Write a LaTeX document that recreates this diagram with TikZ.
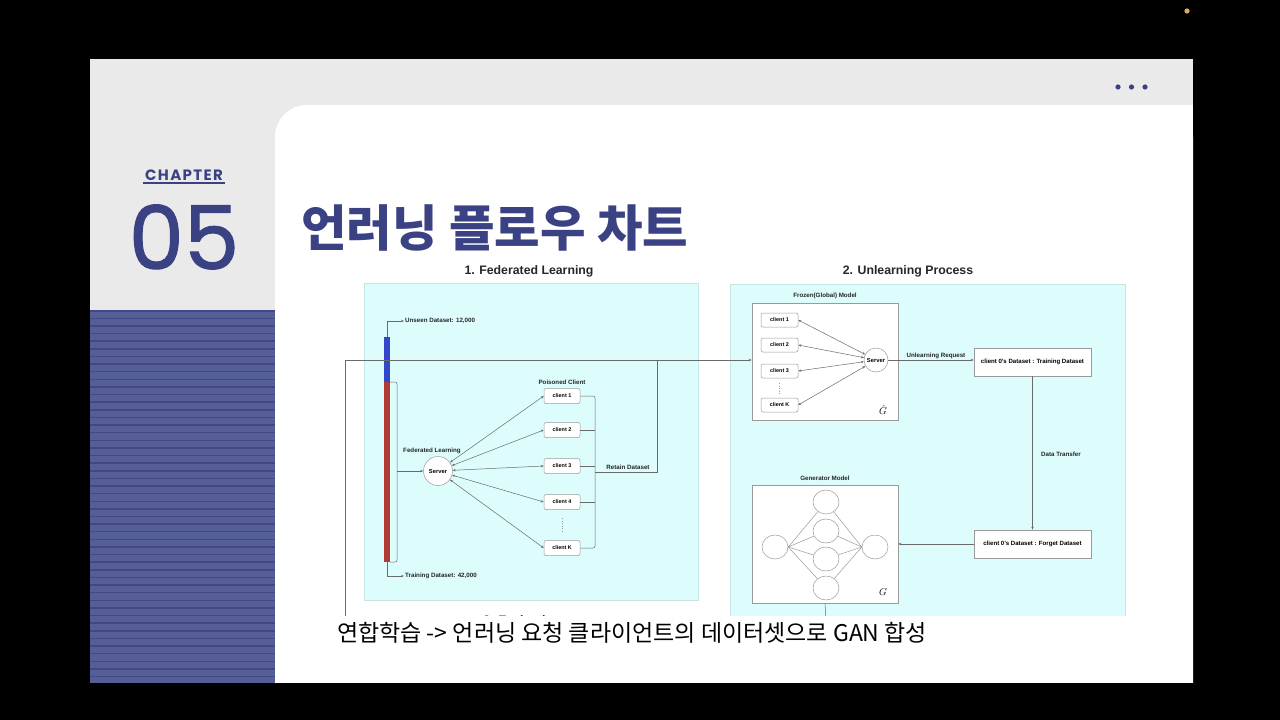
\documentclass[tikz,border=0pt]{standalone}
\usepackage{fontspec}
\setmainfont{Liberation Sans}
\newfontfamily\kr{Noto Sans CJK KR}
\newfontfamily\pop[FakeBold=1.2]{Poppins}
\newfontfamily\popls[LetterSpace=9]{Poppins}
\usetikzlibrary{arrows.meta,shapes.geometric}
\definecolor{navy}{HTML}{3B4283}
\definecolor{slidegrey}{HTML}{EAEAEA}
\definecolor{stripebase}{HTML}{555E97}
\definecolor{stripedark}{HTML}{414884}
\definecolor{panelcyan}{HTML}{DDFCFC}
\definecolor{paneledge}{HTML}{C6E6E6}
\definecolor{linegrey}{HTML}{6A6A6A}
\definecolor{boxedge}{HTML}{9A9A9A}
\definecolor{barblue}{HTML}{3248C8}
\definecolor{barred}{HTML}{B23A34}
\definecolor{dotorange}{HTML}{E0A860}
\tikzset{
  conn/.style={draw=linegrey, line width=0.5pt},
  arr/.style={conn, -{Stealth[length=3pt,width=2.4pt]}},
  biarr/.style={conn, {Stealth[length=3pt,width=2.4pt]}-{Stealth[length=3pt,width=2.4pt]}},
  lbl/.style={font=\fontsize{6.2}{7}\selectfont\bfseries, text=black!85, inner sep=1pt},
  cbox/.style={draw=boxedge, fill=white, rounded corners=2pt, line width=0.5pt,
    minimum width=36pt, minimum height=15pt, inner sep=0pt,
    font=\fontsize{5.4}{6}\selectfont\bfseries},
  srv/.style={circle, draw=boxedge, fill=white, line width=0.5pt, inner sep=0pt,
    font=\fontsize{5.8}{6}\selectfont\bfseries},
  bigbox/.style={draw=boxedge, fill=white, line width=0.6pt, inner sep=0pt},
  dsbox/.style={draw=boxedge, fill=white, line width=0.6pt, inner sep=0pt,
    minimum width=117pt, minimum height=28pt, font=\fontsize{6.1}{7}\selectfont\bfseries},
  neuron/.style={ellipse, draw=boxedge, fill=white, line width=0.5pt,
    minimum width=26pt, minimum height=24pt, inner sep=0pt},
  ptitle/.style={font=\fontsize{12.3}{14}\selectfont\bfseries, text=black!85, inner sep=0pt},
  panel/.style={fill=panelcyan, draw=paneledge, line width=0.5pt}
}
\begin{document}
\begin{tikzpicture}[x=1pt,y=-1pt]
\useasboundingbox (0,0) rectangle (1280,720);
\fill[black] (0,0) rectangle (1280,720);
\fill[dotorange] (1187,11) circle (2.6);
% slide
\fill[slidegrey] (90,59) rectangle (1193,683);
\fill[white, rounded corners=32pt] (275,105) rectangle (1193,720);
\fill[white] (1140,105) rectangle (1193,160);
\fill[white] (1140,600) rectangle (1193,683);
\fill[black] (0,683) rectangle (1280,720);
% stripes
\fill[stripebase] (90,310) rectangle (275,683);
\foreach \i in {0,...,48} {
  \fill[stripedark] (90,{310+7.62*\i}) rectangle (275,{311.5+7.62*\i});
}
% dots top right
\foreach \xx in {1118,1131.5,1145} {
  \fill[navy] (\xx,87) circle (2.6);
}
% chapter
\node[text=navy, inner sep=0pt, font=\popls\bfseries\fontsize{15}{17}\selectfont] (chap) at (184,175.5) {CHAPTER};
\draw[navy, line width=1.2pt] (143,183) -- (225,183);
\node[text=navy, inner sep=0pt, font=\pop\fontsize{88}{90}\selectfont] (num) at (184,237) {05};
% title
\node[text=navy, inner sep=0pt, anchor=west, font=\kr\bfseries\fontsize{49.5}{54}\selectfont] (title) at (301,228) {언러닝 플로우 차트};
% panel titles
\node[ptitle] (t1) at (529,271) {1. Federated Learning};
\node[ptitle] (t2) at (908,271) {2. Unlearning Process};

\begin{scope}
\clip (0,0) rectangle (1280,615);
\node[ptitle] (t3) at (522,620.5) {3. Evaluation};
% panels
\fill[panel] (364,283) rectangle (698,600);
\fill[panel] (730,284) rectangle (1125,640);

% ---------- left panel
\fill[barblue] (384,337) rectangle (390,382);
\fill[barred] (384,382) rectangle (390,562);
\coordinate (bartop) at (387,337);
\coordinate (barbot) at (387,562);
\node[lbl, anchor=west] (unseen) at (404,321) {Unseen Dataset: 12,000};
\node[lbl, anchor=west] (training) at (404,576) {Training Dataset: 42,000};
\draw[arr] (bartop) |- (unseen.west);
\draw[arr] (barbot) |- (training.west);
\draw[conn, rounded corners=2pt] (390,382) -- (397,382) -- (397,562) -- (390,562);
\node[srv, minimum size=29pt] (server) at (438,471) {Server};
\node[lbl] (fl) at (432,451) {Federated Learning};
\draw[arr] (397,471) -- (server.west);
\node[cbox] (c1) at (562,396) {client 1};
\node[cbox] (c2) at (562,430) {client 2};
\node[cbox] (c3) at (562,466) {client 3};
\node[cbox] (c4) at (562,502) {client 4};
\node[cbox] (ck) at (562,548) {client K};
\node[lbl] (pc) at (562,382) {Poisoned Client};
\draw[boxedge, line width=0.5pt, dotted] (562,518) -- (562,532);
\foreach \c in {c1,c2,c3,c4,ck} {
  \draw[biarr] (server) -- (\c.west);
}
\draw[conn, rounded corners=2pt] (c1.east) -- (595,396) -- (595,548) -- (ck.east);
\draw[conn] (c2.east) -- (595,430);
\draw[conn] (c3.east) -- (595,466);
\draw[conn] (c4.east) -- (595,502);
\coordinate (rj) at (595,472);
\coordinate (rc) at (657,472);
\node[lbl, anchor=south] (retain) at (628,471) {Retain Dataset};
\draw[conn] (rj) -- (rc) -- (657,360);

% ---------- right panel
\node[bigbox, minimum width=146pt, minimum height=117pt] (frozen) at (825,361.5) {};
\node[lbl] (frozl) at (825,296) {Frozen(Global) Model};
\node[cbox, minimum width=37pt, minimum height=14pt] (f1) at (779.5,320) {client 1};
\node[cbox, minimum width=37pt, minimum height=14pt] (f2) at (779.5,345) {client 2};
\node[cbox, minimum width=37pt, minimum height=14pt] (f3) at (779.5,371) {client 3};
\node[cbox, minimum width=37pt, minimum height=14pt] (fk) at (779.5,405) {client K};
\draw[boxedge, line width=0.5pt, dotted] (779.5,383) -- (779.5,394);
\node[srv, minimum size=24pt] (fserver) at (876,360) {Server};
\foreach \c in {f1,f2,f3,fk} {
  \draw[biarr] (fserver) -- (\c.east);
}
\node[inner sep=0pt, font=\fontsize{10}{12}\selectfont] (ghat) at (883,410) {$\hat{G}$};
% long line into frozen model
\coordinate (lstart) at (345,620);
\coordinate (lcorner) at (345,360);
\draw[arr] (lstart) -- (lcorner) -- (frozen.west |- lcorner);

\node[dsbox] (trainbox) at (1032.5,362) {client 0's Dataset : Training Dataset};
\node[dsbox] (forgetbox) at (1032.5,544) {client 0's Dataset : Forget Dataset};
\draw[arr] (fserver.east) -- (trainbox.west |- fserver.east);
\node[lbl, anchor=south] (ureq) at (936,360) {Unlearning Request};
\draw[arr] (trainbox.south) -- (forgetbox.north);
\node[lbl] (dt) at (1061,454) {Data Transfer};

\node[bigbox, minimum width=146pt, minimum height=118pt] (gen) at (825,544) {};
\node[lbl] (genl) at (825,478) {Generator Model};
\draw[arr] (forgetbox.west) -- (gen.east |- forgetbox.west);
\node[neuron] (in) at (775,547) {};
\node[neuron] (h1) at (826,502) {};
\node[neuron] (h2) at (826,531) {};
\node[neuron] (h3) at (826,559) {};
\node[neuron] (h4) at (826,588) {};
\node[neuron] (out) at (875,547) {};
\foreach \h in {h1,h2,h3,h4} {
  \draw[conn, draw=boxedge] (in.east) -- (\h);
  \draw[conn, draw=boxedge] (out.west) -- (\h);
}
\node[inner sep=0pt, font=\fontsize{10}{12}\selectfont] (gsym) at (883,592) {$G$};
\draw[conn] (gen.south) -- (826,620);
\end{scope}

% caption
\node[inner sep=0pt, anchor=west, font=\kr\fontsize{23}{27}\selectfont] (cap) at (337,633) {연합학습 -> 언러닝 요청 클라이언트의 데이터셋으로 GAN 합성};
\end{tikzpicture}
\end{document}
